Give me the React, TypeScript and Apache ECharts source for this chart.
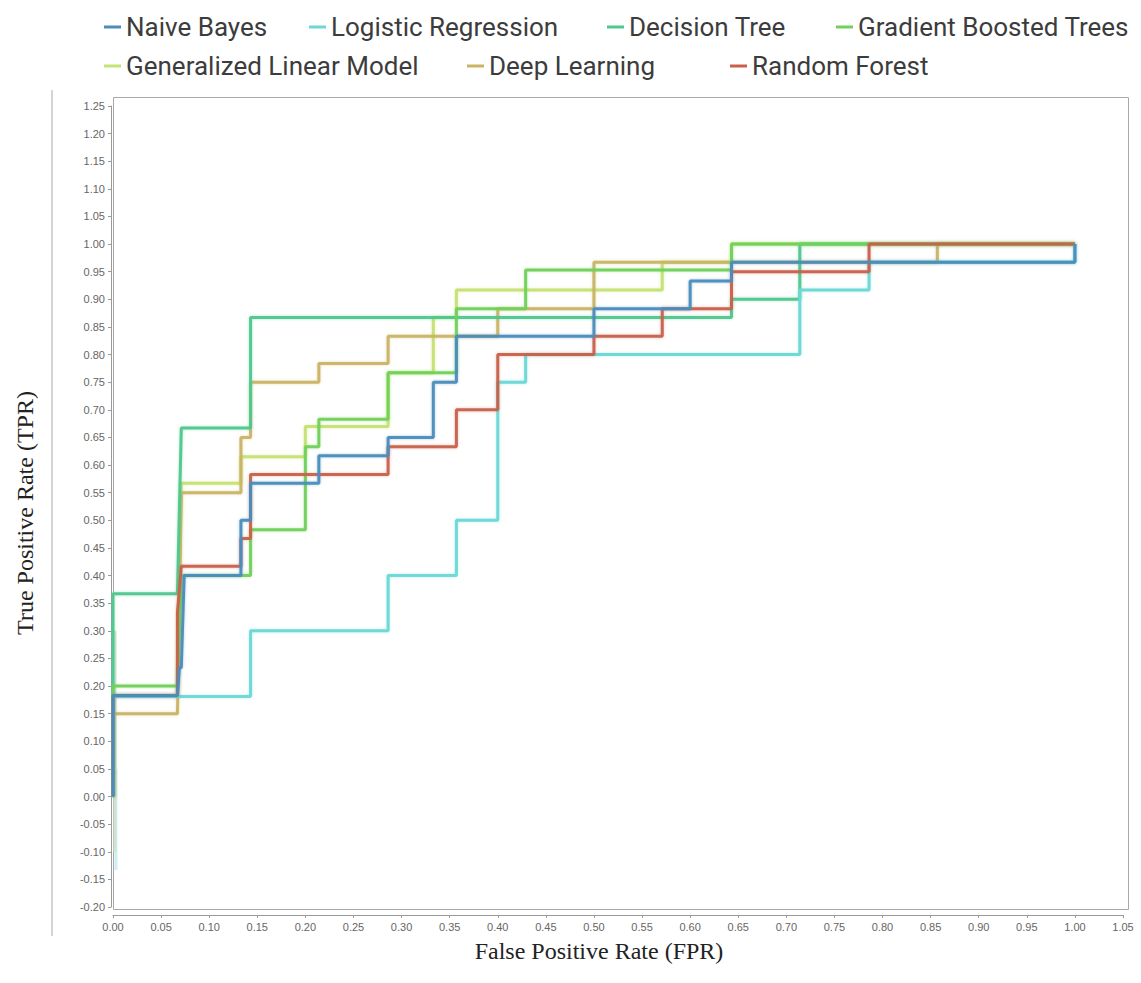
import React, { useEffect, useRef } from "react";
import * as echarts from "echarts";

const seriesNames = [
  "Naive Bayes",
  "Logistic Regression",
  "Decision Tree",
  "Gradient Boosted Trees",
  "Generalized Linear Model",
  "Deep Learning",
  "Random Forest",
];

const seriesColors = ["#4a8cba", "#6bd8d6", "#4fc78d", "#72d15a", "#c6e274", "#c9b466", "#c8614b"];
const haloColors = [
  "rgba(74,140,186,0.45)",
  "rgba(107,216,214,0.45)",
  "rgba(79,199,141,0.45)",
  "rgba(114,209,90,0.45)",
  "rgba(198,226,116,0.5)",
  "rgba(201,180,102,0.45)",
  "rgba(200,97,75,0.4)",
];

// legend item left positions (page px) and rows
const legendLefts = [99, 304, 602, 831, 99, 462, 725];
const legendRows = [0, 0, 0, 0, 1, 1, 1];

const xTicks = { min: 0, max: 1.05, interval: 0.05 };
const yTicks = { min: -0.2, max: 1.25, interval: 0.05 };

const naiveBayes = [
  [0, 0], [0, 0.183], [0.067, 0.183], [0.069, 0.233], [0.071, 0.233], [0.074, 0.4],
  [0.133, 0.4], [0.133, 0.5], [0.143, 0.5], [0.143, 0.567], [0.214, 0.567], [0.214, 0.617],
  [0.286, 0.617], [0.286, 0.65], [0.333, 0.65], [0.333, 0.75], [0.357, 0.75], [0.357, 0.833],
  [0.5, 0.833], [0.5, 0.883], [0.6, 0.883], [0.6, 0.933], [0.643, 0.933], [0.643, 0.967],
  [1.0, 0.967], [1.0, 1.0],
];

const logisticRegression = [
  [0, 0], [0, 0.181], [0.143, 0.181], [0.143, 0.3], [0.286, 0.3], [0.286, 0.4],
  [0.357, 0.4], [0.357, 0.5], [0.4, 0.5], [0.4, 0.75], [0.429, 0.75], [0.429, 0.8],
  [0.714, 0.8], [0.714, 0.917], [0.786, 0.917], [0.786, 0.967], [1.0, 0.967], [1.0, 1.0],
];

const decisionTree = [
  [0, 0], [0, 0.367], [0.067, 0.367], [0.071, 0.667], [0.143, 0.667], [0.143, 0.867],
  [0.643, 0.867], [0.643, 0.9], [0.714, 0.9], [0.714, 1.0], [1.0, 1.0],
];

const gradientBoostedTrees = [
  [0, 0], [0, 0.2], [0.067, 0.2], [0.071, 0.4], [0.143, 0.4], [0.143, 0.483],
  [0.2, 0.483], [0.2, 0.633], [0.214, 0.633], [0.214, 0.683], [0.286, 0.683], [0.286, 0.767],
  [0.357, 0.767], [0.357, 0.883], [0.429, 0.883], [0.429, 0.953], [0.643, 0.953], [0.643, 1.0],
  [1.0, 1.0],
];

const generalizedLinearModel = [
  [0, 0], [0, 0.183], [0.067, 0.183], [0.071, 0.567], [0.133, 0.567], [0.133, 0.615],
  [0.2, 0.615], [0.2, 0.67], [0.286, 0.67], [0.286, 0.767], [0.333, 0.767], [0.333, 0.867],
  [0.357, 0.867], [0.357, 0.917], [0.571, 0.917], [0.571, 0.967], [0.643, 0.967], [0.643, 1.0],
  [1.0, 1.0],
];

const deepLearning = [
  [0, 0], [0, 0.15], [0.067, 0.15], [0.071, 0.55], [0.133, 0.55], [0.133, 0.65],
  [0.143, 0.65], [0.143, 0.75], [0.214, 0.75], [0.214, 0.784], [0.286, 0.784], [0.286, 0.833],
  [0.4, 0.833], [0.4, 0.883], [0.5, 0.883], [0.5, 0.967], [0.857, 0.967], [0.857, 1.0],
  [1.0, 1.0],
];

const randomForest = [
  [0, 0], [0, 0.183], [0.067, 0.183], [0.067, 0.333], [0.071, 0.417], [0.133, 0.417],
  [0.133, 0.467], [0.143, 0.467], [0.143, 0.583], [0.286, 0.583], [0.286, 0.633],
  [0.357, 0.633], [0.357, 0.7], [0.4, 0.7], [0.4, 0.8], [0.5, 0.8], [0.5, 0.833],
  [0.571, 0.833], [0.571, 0.883], [0.643, 0.883], [0.643, 0.95], [0.786, 0.95],
  [0.786, 1.0], [1.0, 1.0],
];

// pale deviation traces visible near FPR = 0
const paleBandLR = [[0.003, 0.05], [0.003, -0.133]];
const paleBandGreen = [[0.002, 0.3], [0.002, -0.1]];

const seriesData = [
  naiveBayes,
  logisticRegression,
  decisionTree,
  gradientBoostedTrees,
  generalizedLinearModel,
  deepLearning,
  randomForest,
];

const seriesZ = [9, 8, 6, 7, 4, 5, 8];

function fmt(v: number) {
  if (Math.abs(v) < 1e-9) return "0.00";
  return v.toFixed(2);
}

export default function App() {
  const ref = useRef<HTMLDivElement>(null);
  useEffect(() => {
    if (!ref.current) return;
    const chart = echarts.init(ref.current, undefined, { renderer: "svg" });
    const legendText = { fontSize: 26, color: "#3c3c3c", fontFamily: "Roboto" };
    chart.setOption({
      animation: false,
      backgroundColor: "#ffffff",
      legend: seriesNames.map((name, i) => ({
        data: [name],
        left: legendLefts[i],
        top: legendRows[i] === 0 ? 9 : 48,
        itemWidth: 17,
        itemHeight: 3,
        icon: "rect",
        textStyle: legendText,
      })),
      grid: { left: 113, right: 18, top: 106, bottom: 76, containLabel: false },
      xAxis: {
        type: "value",
        min: xTicks.min,
        max: xTicks.max,
        interval: xTicks.interval,
        offset: 8,
        axisLine: { show: true, onZero: false, lineStyle: { color: "#9a9a9a", width: 1 } },
        axisTick: { show: true, length: 3, lineStyle: { color: "#9a9a9a" } },
        axisLabel: { color: "#666", fontSize: 11, fontFamily: "Liberation Sans", margin: 6, formatter: fmt },
        splitLine: { show: false },
      },
      yAxis: {
        type: "value",
        min: yTicks.min,
        max: yTicks.max,
        interval: yTicks.interval,
        offset: 2,
        axisLine: { show: true, onZero: false, lineStyle: { color: "#9a9a9a", width: 1 } },
        axisTick: { show: true, length: 3, lineStyle: { color: "#9a9a9a" } },
        axisLabel: { color: "#666", fontSize: 11, fontFamily: "Liberation Sans", margin: 6, formatter: fmt },
        splitLine: { show: false },
      },
      graphic: [
        {
          type: "rect",
          shape: { x: 113.5, y: 97.5, width: 1015, height: 812 },
          style: { fill: "none", stroke: "#a8a8a8", lineWidth: 1 },
          silent: true,
          z: -1,
        },
        {
          type: "line",
          shape: { x1: 52, y1: 90, x2: 52, y2: 936 },
          style: { stroke: "#d4d4d4", lineWidth: 2 },
          silent: true,
        },
        {
          type: "text",
          x: 25,
          y: 513,
          rotation: Math.PI / 2,
          style: {
            text: "True Positive Rate (TPR)",
            font: "24px 'Liberation Serif'",
            fill: "#222",
            textAlign: "center",
            textVerticalAlign: "middle",
          },
        },
        {
          type: "text",
          x: 599,
          y: 951,
          style: {
            text: "False Positive Rate (FPR)",
            font: "24px 'Liberation Serif'",
            fill: "#222",
            textAlign: "center",
            textVerticalAlign: "middle",
          },
        },
      ],
      series: [
        ...seriesNames.map((name, i) => ({
          name,
          type: "line",
          data: seriesData[i],
          symbol: "none",
          showSymbol: false,
          z: seriesZ[i],
          color: seriesColors[i],
          lineStyle: {
            width: 3,
            color: seriesColors[i],
            opacity: 0.95,
            shadowColor: haloColors[i],
            shadowBlur: 3,
          },
        })),
        {
          name: "band-lr",
          type: "line",
          data: paleBandLR,
          symbol: "none",
          z: 1,
          lineStyle: { width: 3, color: "#cdeff3" },
        },
        {
          name: "band-green",
          type: "line",
          data: paleBandGreen,
          symbol: "none",
          z: 1,
          lineStyle: { width: 3, color: "#cfe3cf" },
        },
      ],
    });
    return () => chart.dispose();
  }, []);
  return (
    <div
      ref={ref}
      style={{ position: "fixed", left: 0, top: 0, width: 1141, height: 983 }}
    />
  );
}
